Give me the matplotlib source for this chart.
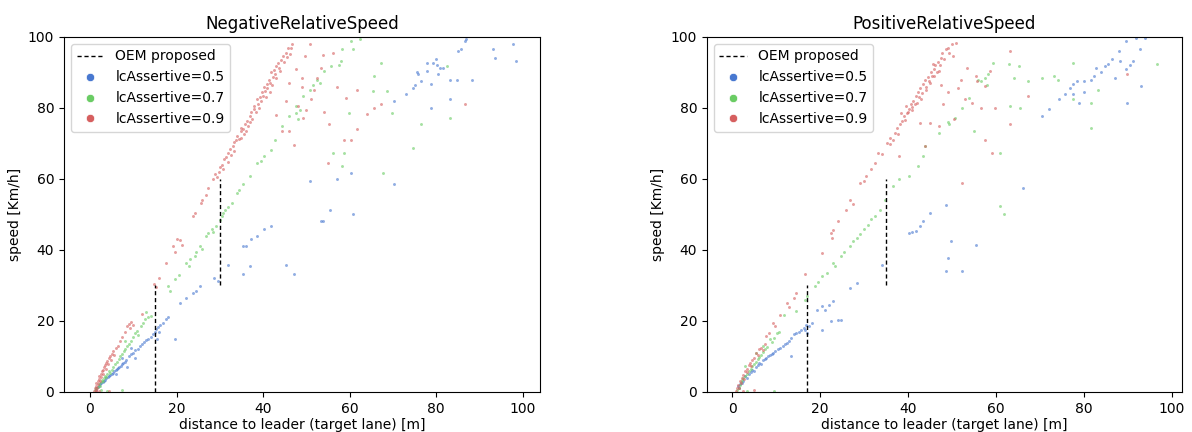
import matplotlib
matplotlib.use("Agg")
import matplotlib.pyplot as plt
from matplotlib.lines import Line2D

titles = ["NegativeRelativeSpeed", "PositiveRelativeSpeed"]
labels = ["lcAssertive=0.5", "lcAssertive=0.7", "lcAssertive=0.9"]
colors = ["#4878d0", "#6acc64", "#d65f5f"]

# OEM proposed thresholds: (x, ymin, ymax)
neg_oem = [(15, 0, 30), (30, 30, 60)]
pos_oem = [(17, 0, 30), (35, 30, 60)]

neg_05 = [(1.3,0.5),(1.5,1.0),(1.8,1.4),(2.0,1.8),(2.3,2.2),(2.6,2.5),(2.9,2.9),(3.2,3.2),(3.5,3.5),(3.8,3.9),(4.1,4.2),(4.4,4.5),(4.7,4.8),(5.0,5.1),(5.3,5.4),(5.6,5.8),(5.9,6.1),(6.2,6.4),(6.5,6.8),(6.8,7.1),(7.1,7.4),(7.4,7.8),(7.7,8.2),(8.0,8.5),(8.3,9.0),(7.5,9.5),(8.5,7.0),(9.0,10.0),(9.5,10.8),(10.0,11.0),(10.5,11.8),(11.0,12.2),(11.5,13.0),(12.0,13.5),(12.5,14.0),(13.0,14.6),(13.5,15.0),(14.0,15.5),(14.5,16.2),(15.0,16.8),(15.3,17.8),(15.8,18.2),(16.2,18.8),(16.8,19.5),(17.5,20.5),(18.0,21.0),(19.7,14.8),(15.5,15.0),(10.5,9.5),(9.5,12.5),(6.0,5.0),(16.0,17.0),
          (20.9,25.1),(22.2,26.5),(23.8,27.9),(24.5,28.5),(25.5,29.8),(28.7,32.1),(29.6,31.2),(32.0,35.9),(35.3,41.0),(36.0,41.2),(37.2,43.0),(38.6,43.9),(40.2,45.8),(41.9,46.7),(35.3,33.1),(36.9,35.4),(45.2,35.9),(47.2,33.1),(53.4,48.1),(53.9,48.3),(55.4,51.4),(60.7,50.0),(50.9,59.4),(57.1,59.9),(60.3,61.7),(70.2,58.5),
          (73.1,83.8),(74.7,85.7),(75.2,86.5),(75.9,89.5),(78.0,90.4),(79.2,92.8),(80.0,93.7),(80.9,91.4),(80.5,89.5),(78.8,86.7),(83.2,88.0),(84.9,88.0),(88.3,88.0),(85.0,96.0),(85.8,96.5),(86.6,98.9),(87.0,99.3),(93.2,96.5),(97.7,97.9),(93.6,94.2),(98.5,93.2),(78.8,80.0),(83.3,82.4),(70.2,82.0),(78.0,92.8),(75.6,90.0),(81.7,91.4),(80.3,92.0),(76.5,87.5)]

neg_07 = [(1.2,0.5),(1.5,1.0),(1.8,1.5),(2.0,2.2),(2.3,1.8),(2.5,2.8),(2.8,3.4),(3.0,3.0),(3.2,4.0),(3.5,4.5),(3.8,4.2),(4.0,5.2),(4.3,5.8),(4.6,5.4),(5.0,6.3),(5.4,7.0),(5.8,7.8),(6.2,8.5),(6.6,9.2),(7.0,10.0),(7.4,10.6),(7.8,11.5),(8.2,12.0),(8.6,13.0),(9.0,13.6),(9.5,14.5),(10.0,15.5),(10.4,16.5),(10.8,17.2),(11.2,16.0),(11.9,18.5),(12.2,19.5),(12.8,20.5),(13.5,21.0),(14.0,21.3),(13.0,22.5),(8.0,14.5),(2.5,0.5),(4.0,0.4),(7.4,0.5),
          (18.1,29.8),(18.5,28.5),(19.7,31.7),(20.5,33.0),(22.2,36.4),(22.8,35.5),(23.2,37.5),(24.2,38.3),(24.6,39.5),(25.5,41.0),(26.0,40.2),(26.7,43.9),(27.2,44.8),(28.1,45.8),(28.5,45.0),(29.1,46.7),(30.0,48.5),(30.4,49.5),(30.7,50.5),(31.2,51.4),(32.0,52.0),(32.8,53.3),(34.0,56.0),(34.5,57.0),(35.3,58.5),(36.9,60.8),(38.6,64.6),(39.5,65.0),(40.2,66.4),(41.9,68.3),(42.7,71.0),(44.3,75.0),(46.0,77.7),(47.6,80.5),(48.5,79.5),(49.3,83.4),(50.9,85.2),(51.5,86.5),(52.5,88.0),(53.2,87.0),(54.2,90.4),(55.8,91.8),(57.9,93.2),(57.5,92.0),(58.3,96.5),(60.3,98.9),(62.4,99.5),(60.7,96.5),
          (76.4,75.4),(74.7,68.8),(67.7,61.7),(58.7,67.4),(56.2,67.4),(58.3,63.6),(83.3,77.3),(65.3,84.8),(68.6,84.8),(69.8,78.7),(67.3,92.8),(82.5,91.8),(59.9,78.7),(65.7,89.0),(48.0,77.0),(47.5,78.5)]

neg_09 = [(1.0,0.3),(1.2,1.0),(1.3,0.5),(1.4,1.8),(1.5,2.5),(1.6,1.2),(1.8,3.0),(1.9,2.2),(2.0,3.8),(2.2,4.5),(2.3,3.2),(2.5,5.0),(2.6,4.2),(2.8,5.8),(3.0,6.3),(3.1,5.2),(3.3,7.0),(3.5,7.6),(3.6,6.5),(3.8,8.2),(4.0,8.8),(4.2,7.8),(4.4,9.5),(4.6,10.2),(4.8,9.0),(5.0,10.8),(5.3,11.5),(5.6,10.5),(6.0,12.5),(6.5,13.0),(7.0,14.5),(7.5,15.5),(8.0,17.0),(8.5,18.5),(9.0,19.2),(9.5,19.6),(10.0,19.0),(9.2,18.0),(1.4,0.2),(2.0,0.3),(4.5,0.4),
          (12.0,22.0),(14.8,30.3),(15.3,29.5),(15.9,32.1),(17.5,36.4),(19.3,41.0),(19.6,39.5),(20.1,43.0),(20.9,42.8),(21.2,41.5),(23.8,49.5),(24.3,50.5),(25.7,53.3),(26.7,55.6),(27.3,57.5),(26.0,54.0),
          (28.5,60.0),(28.8,61.5),(29.3,60.5),(29.8,62.0),(30.0,63.5),(30.4,64.0),(30.8,62.8),(31.0,65.5),(31.4,66.2),(31.8,64.8),(32.0,67.4),(32.3,68.5),(32.6,66.8),(33.0,69.2),(33.3,70.5),(33.7,71.0),(33.2,68.0),(34.0,72.0),(34.4,71.2),(34.8,73.4),(35.0,74.5),(35.3,74.0),(35.6,72.8),(35.9,75.5),(36.2,76.4),(36.5,75.0),(36.9,77.7),(37.2,78.8),(37.5,77.0),(37.8,79.6),(38.0,80.5),(38.3,79.0),(38.6,82.4),(38.9,81.0),(39.2,83.2),(39.5,82.0),(39.8,84.6),(40.0,83.5),(40.2,86.0),(40.5,84.8),(40.8,86.8),(41.0,85.5),(41.3,88.0),(41.6,87.0),(41.9,90.0),(42.2,88.6),(42.5,90.8),(42.8,89.5),(43.1,91.8),(43.5,92.8),(43.8,91.2),(44.1,93.5),(44.5,94.6),(44.8,93.0),(45.2,95.6),(45.5,94.5),(45.8,96.8),(46.2,95.2),(46.8,98.0),(46.5,97.0),(37.0,76.0),(39.0,80.0),(40.6,83.0),(42.0,86.5),(43.0,88.5),(36.0,73.5),(35.0,71.5),(41.5,84.5),(44.0,90.5),
          (50.9,98.0),(53.8,95.0),(56.2,95.6),(51.7,85.2),(49.3,77.3),(48.0,80.5),(46.0,87.0),(51.0,82.4),(55.3,75.4),(58.7,71.1),(60.3,71.1),(55.0,64.6),(61.6,74.0),(64.0,78.2),(65.7,80.0),(67.3,81.0),(61.6,85.2),(59.1,82.9),(86.6,81.0),(49.7,94.7),(53.4,91.4),(44.3,73.5),(45.2,82.0),(48.9,88.5),(47.2,69.7),(46.0,73.5),(47.5,91.0),(49.0,86.0),(52.5,88.5),(50.0,79.5),(43.0,78.0),(57.0,86.0),(54.0,79.0)]

pos_05 = [(1.4,1.6),(1.6,1.0),(1.8,2.2),(2.2,2.5),(2.5,3.0),(3.0,4.4),(3.4,4.0),(3.8,5.0),(4.2,5.5),(4.6,6.3),(5.0,6.0),(5.4,7.0),(5.8,7.5),(6.2,8.2),(6.6,8.0),(7.0,9.0),(7.4,9.4),(7.8,9.6),(8.2,10.2),(8.6,10.5),(9.0,10.8),(9.4,11.0),(9.8,11.6),(10.4,12.0),(11.0,12.4),(11.6,13.0),(12.0,13.5),(12.5,13.8),(13.0,14.5),(13.5,15.2),(14.1,16.2),(14.6,16.5),(15.2,17.0),(15.7,17.6),(16.3,18.0),(16.9,19.0),(17.4,18.5),(18.1,19.5),(17.0,16.5),(16.5,17.5),(13.3,10.0),(19.3,23.2),(20.5,24.2),(21.2,23.0),(22.9,25.6),(22.0,24.5),(20.5,17.6),(22.4,19.9),(24.8,20.4),(24.0,20.2),(26.8,29.3),(28.3,30.7),
          (34.0,35.9),(40.3,44.8),(41.0,45.0),(41.9,45.3),(42.7,46.7),(43.5,48.1),(45.1,50.5),(48.7,52.8),(49.8,42.5),(49.0,37.8),(48.6,34.0),(52.2,34.0),(55.4,41.5),(66.1,57.5),
          (70.5,77.7),(72.0,79.6),(74.4,82.4),(75.6,83.8),(76.8,85.7),(77.6,86.7),(78.4,87.6),(80.0,87.6),(81.6,88.0),(82.4,89.0),(82.8,91.4),(84.8,91.8),(86.4,93.7),(88.0,96.0),(89.5,98.9),(91.9,99.8),(93.9,99.8),(92.7,96.5),(91.1,93.2),(89.5,90.9),(87.1,88.5),(89.8,81.5),(93.0,86.2),(77.6,83.8),(78.8,81.5),(88.3,93.2),(83.9,90.0),(80.0,84.4),(85.5,92.5),(90.5,92.0)]

pos_07 = [(1.2,0.5),(1.5,1.2),(1.8,2.0),(2.0,2.8),(2.3,3.5),(2.6,4.0),(3.0,4.6),(3.0,7.2),(3.4,5.2),(3.8,6.0),(4.2,6.5),(4.6,7.2),(5.0,7.8),(5.4,8.5),(5.4,11.0),(5.8,9.2),(6.2,9.8),(6.6,10.5),(7.0,11.2),(7.0,12.9),(7.5,12.0),(8.0,12.8),(8.6,14.8),(9.0,14.0),(9.5,15.2),(10.2,16.6),(10.6,17.0),(11.7,21.8),(14.5,22.7),(16.5,26.0),(3.5,0.4),(9.5,0.3),
          (17.0,27.0),(18.9,29.8),(19.5,31.0),(20.5,32.6),(21.5,33.5),(22.9,36.4),(23.5,35.5),(24.8,38.3),(25.5,39.5),(26.8,41.0),(27.5,42.5),(28.5,43.5),(29.2,44.4),(30.0,46.0),(30.8,47.0),(31.6,48.6),(32.5,49.5),(33.6,51.4),(34.8,54.2),(36.7,58.0),(37.9,59.9),(40.3,60.8),(42.2,63.6),(43.5,66.4),(43.9,69.3),
          (47.0,73.0),(49.4,75.4),(50.6,77.3),(52.2,80.0),(53.8,82.9),(56.6,87.6),(57.5,88.5),(58.3,89.5),(59.4,92.8),(62.9,92.3),(65.2,91.8),(67.3,87.6),(73.3,89.0),(77.6,92.8),(77.6,82.4),(81.6,81.5),(63.3,80.5),(65.5,80.0),(81.6,74.4),(61.0,67.4),(61.0,52.4),(61.8,50.0),(55.0,73.5),(96.7,92.3),(83.2,85.2),(74.0,88.0),(64.1,88.5),(56.0,88.0),(58.0,86.5),(49.0,76.0),(70.5,88.5)]

pos_09 = [(1.0,0.3),(1.2,1.2),(1.4,2.0),(1.6,1.0),(1.8,3.0),(2.0,2.5),(2.2,4.0),(2.5,4.8),(2.7,3.8),(3.0,5.8),(3.3,6.5),(3.5,5.5),(3.8,7.5),(4.0,8.2),(4.3,7.2),(4.6,9.0),(5.0,9.5),(5.4,11.0),(5.8,10.5),(6.2,12.0),(6.6,12.5),(7.0,11.9),(7.5,13.5),(7.8,15.7),(8.5,16.5),(9.4,19.5),(9.8,18.5),(11.0,21.8),(12.5,25.1),(13.0,24.0),(14.5,27.9),(14.0,26.5),(16.5,33.1),(5.0,0.5),(2.5,0.4),
          (20.5,39.2),(22.5,44.8),(23.0,45.5),(22.8,43.5),(24.0,48.1),(26.0,51.4),(26.8,54.2),(27.5,53.0),(29.2,58.9),(30.4,60.8),(30.0,59.5),(31.6,62.7),(32.5,64.5),(33.2,67.4),(34.0,67.0),(35.2,70.2),(35.8,71.5),(36.0,69.8),
          (36.5,71.0),(37.1,73.0),(37.5,74.5),(37.8,72.8),(38.2,75.5),(38.7,76.3),(39.0,77.8),(39.3,76.5),(39.7,78.5),(40.0,79.0),(40.3,79.6),(40.6,81.0),(40.9,80.2),(41.2,82.0),(41.5,81.2),(41.9,83.4),(42.2,84.5),(42.5,83.0),(42.8,85.5),(43.2,84.3),(43.5,86.7),(43.8,88.0),(44.1,86.0),(44.5,88.8),(44.8,87.5),(45.2,90.0),(45.5,89.0),(45.9,90.9),(46.2,92.0),(46.5,90.0),(46.9,93.0),(47.2,92.0),(47.5,94.2),(47.8,95.5),(48.2,93.8),(48.6,96.5),(49.0,97.0),(49.4,95.5),(50.0,98.0),(51.0,98.4),(44.0,85.0),(45.0,87.0),(46.0,89.0),(47.0,90.5),(42.0,81.5),(43.0,82.5),(41.0,79.5),(39.5,80.5),(38.5,78.5),(45.6,92.5),
          (50.2,94.6),(53.4,91.4),(55.4,89.0),(63.3,96.0),(57.4,86.2),(51.4,85.7),(49.0,84.5),(42.7,75.8),(45.0,75.8),(47.0,74.9),(43.9,69.3),(37.9,66.4),(52.2,58.9),(57.4,71.1),(59.0,67.4),(63.3,75.4),(67.3,83.4),(59.7,80.0),(54.6,81.5),(53.0,82.5),(58.6,90.4),(89.9,89.5),(55.8,87.5),(48.0,81.0),(50.5,77.0),(52.0,88.0),(56.5,80.0),(47.5,86.5)]

panels = [
    (titles[0], [neg_05, neg_07, neg_09], neg_oem, (-6, 104)),
    (titles[1], [pos_05, pos_07, pos_09], pos_oem, (-5.7, 102.3)),
]

fig = plt.figure(figsize=(11.92, 4.32), dpi=100)
axes = [fig.add_axes([0.0537, 0.0926, 0.3993, 0.8218]),
        fig.add_axes([0.5931, 0.0926, 0.3985, 0.8218])]

for ax, (title, series, oem, xlim) in zip(axes, panels):
    for pts, c in zip(series, colors):
        xs = [p[0] for p in pts]
        ys = [p[1] for p in pts]
        ax.scatter(xs, ys, s=4.5, color=c, alpha=0.6, linewidths=0)
    for x, y0, y1 in oem:
        ax.vlines(x, y0, y1, colors="black", linestyles=(0, (3, 2)), linewidth=1)
    ax.set_xlim(*xlim)
    ax.set_ylim(0, 100)
    ax.set_xticks([0, 20, 40, 60, 80, 100])
    ax.set_yticks([0, 20, 40, 60, 80, 100])
    ax.set_title(title, fontsize=12)
    ax.set_xlabel("distance to leader (target lane) [m]", fontsize=10, labelpad=2)
    ax.set_ylabel("speed [Km/h]", fontsize=10)
    ax.tick_params(labelsize=10)
    handles = [Line2D([0], [0], color="black", linestyle=(0, (3, 2)), linewidth=1)]
    handles += [Line2D([0], [0], marker="o", linestyle="", markersize=6,
                       markerfacecolor=c, markeredgecolor="white", markeredgewidth=0.5)
                for c in colors]
    ax.legend(handles, ["OEM proposed"] + labels, loc="upper left", fontsize=10)

fig.savefig("out.png", dpi=100)
